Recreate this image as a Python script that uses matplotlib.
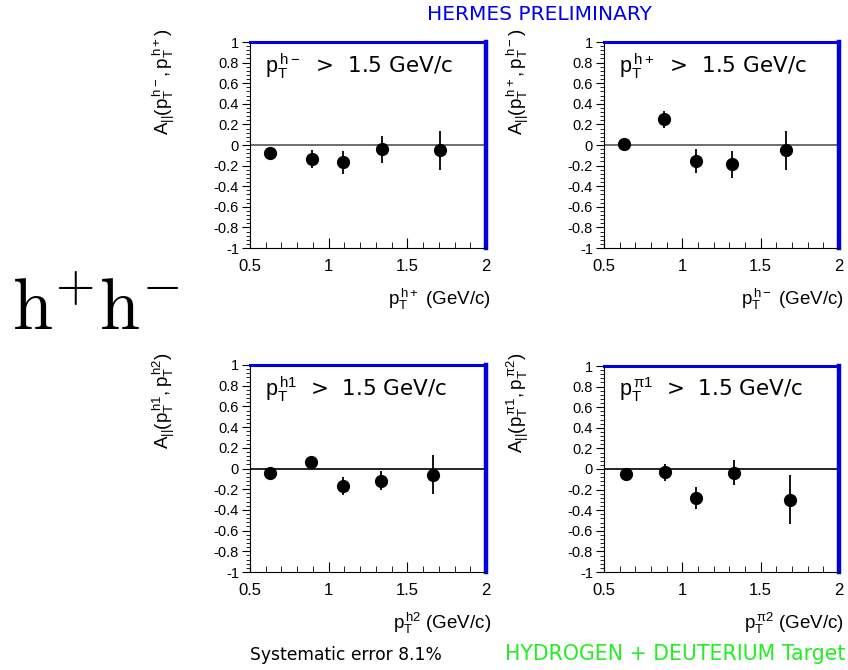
import matplotlib.pyplot as plt
import numpy as np
from matplotlib.ticker import MultipleLocator

# data
x_tl = [0.63, 0.897, 1.088, 1.338, 1.705]
y_tl = [-0.08, -0.14, -0.168, -0.04, -0.05]
e_tl = [0.03, 0.087, 0.11, 0.13, 0.19]

x_tr = [0.63, 0.885, 1.089, 1.32, 1.662]
y_tr = [0.01, 0.25, -0.155, -0.187, -0.05]
e_tr = [0.03, 0.084, 0.113, 0.13, 0.19]

x_bl = [0.63, 0.89, 1.088, 1.33, 1.665]
y_bl = [-0.04, 0.06, -0.168, -0.116, -0.058]
e_bl = [0.03, 0.06, 0.084, 0.095, 0.185]

x_br = [0.638, 0.887, 1.089, 1.33, 1.69]
y_br = [-0.045, -0.032, -0.28, -0.035, -0.297]
e_br = [0.03, 0.085, 0.11, 0.125, 0.237]

cuts = [r'$\mathrm{p_T^{\,h-}}$  >  1.5 GeV/c', r'$\mathrm{p_T^{\,h+}}$  >  1.5 GeV/c',
        r'$\mathrm{p_T^{\,h1}}$  >  1.5 GeV/c', r'$\mathrm{p_T^{\,\pi 1}}$  >  1.5 GeV/c']
ylabels = [r'$\mathrm{A_{||}(p_T^{\,h-},p_T^{\,h+})}$', r'$\mathrm{A_{||}(p_T^{\,h+},p_T^{\,h-})}$',
           r'$\mathrm{A_{||}(p_T^{\,h1},p_T^{\,h2})}$', r'$\mathrm{A_{||}(p_T^{\,\pi 1},p_T^{\,\pi 2})}$']
xlabels = [r'$\mathrm{p_T^{\,h+}}$ (GeV/c)', r'$\mathrm{p_T^{\,h-}}$ (GeV/c)',
           r'$\mathrm{p_T^{\,h2}}$ (GeV/c)', r'$\mathrm{p_T^{\,\pi 2}}$ (GeV/c)']

plt.rcParams['font.family'] = ['Liberation Sans', 'DejaVu Sans']
plt.rcParams['mathtext.fontset'] = 'custom'
plt.rcParams['mathtext.rm'] = 'Liberation Sans'
plt.rcParams['mathtext.it'] = 'Liberation Sans'

W, H = 848, 670
fig = plt.figure(figsize=(W / 100, H / 100), dpi=100)

# panel boxes in pixels: left, top, right, bottom
boxes = [(250, 42, 486, 248), (604, 42, 839, 248),
         (250, 365, 486, 572), (604, 366, 839, 572)]
data = [(x_tl, y_tl, e_tl), (x_tr, y_tr, e_tr), (x_bl, y_bl, e_bl), (x_br, y_br, e_br)]
zcol = ['#555555', '#555555', 'black', 'black']

for i, (l, t, r, b) in enumerate(boxes):
    ax = fig.add_axes([l / W, 1 - b / H, (r - l) / W, (b - t) / H])
    xs, ys, es = data[i]
    ax.axhline(0, color=zcol[i], lw=1.2, zorder=1)
    ax.errorbar(xs, ys, yerr=es, fmt='o', color='black', ms=8.5, elinewidth=1.3,
                capsize=0, zorder=3)
    ax.set_xlim(0.5, 2)
    ax.set_ylim(-1, 1)
    ax.xaxis.set_minor_locator(MultipleLocator(0.1))
    ax.yaxis.set_minor_locator(MultipleLocator(0.04))
    ax.set_xticks([0.5, 1, 1.5, 2])
    ax.set_xticklabels(['0.5', '1', '1.5', '2'])
    yt = np.round(np.arange(-1, 1.01, 0.2), 1)
    ax.set_yticks(yt)
    ax.set_yticklabels(['%g' % (v + 0.0) if abs(v) > 1e-9 else '0' for v in yt])
    ax.tick_params(axis='x', which='major', direction='in', length=7, labelsize=12, pad=8)
    ax.tick_params(axis='x', which='minor', direction='in', length=4)
    ax.tick_params(axis='y', which='major', direction='out', length=6, labelsize=10.5, pad=2)
    ax.tick_params(axis='y', which='minor', direction='out', length=3)
    ax.spines['top'].set_color('#0000dd')
    ax.spines['top'].set_linewidth(2.2)
    ax.spines['right'].set_color('#0000dd')
    ax.spines['right'].set_linewidth(3.2)
    ax.text(0.065, 0.955, cuts[i], transform=ax.transAxes, fontsize=15.5,
            family='DejaVu Sans', ha='left', va='top')
    # y label, ROOT style at top end
    fig.text((l - 86) / W, 1 - (t - 13) / H, ylabels[i], rotation=90,
             ha='center', va='top', fontsize=13.5)
    fig.text((r + 5) / W, 1 - (b + 51) / H, xlabels[i], ha='right', va='center',
             fontsize=13.5)

fig.text(12 / W, 1 - 312 / H, r'$\mathrm{h^{+}h^{-}}$', fontsize=52,
         math_fontfamily='cm', ha='left', va='center')
fig.text(539 / W, 1 - 14 / H, 'HERMES PRELIMINARY', color='#0000ee',
         family='DejaVu Sans', fontsize=14.5, ha='center', va='center')
fig.text(250 / W, 1 - 655 / H, 'Systematic error 8.1%', color='black',
         family='DejaVu Sans', fontsize=12.3, ha='left', va='center')
fig.text(845 / W, 1 - 654 / H, 'HYDROGEN + DEUTERIUM Target', color='#22ee22',
         family='DejaVu Sans', fontsize=14.8, ha='right', va='center')

fig.savefig('out.png', dpi=100)
